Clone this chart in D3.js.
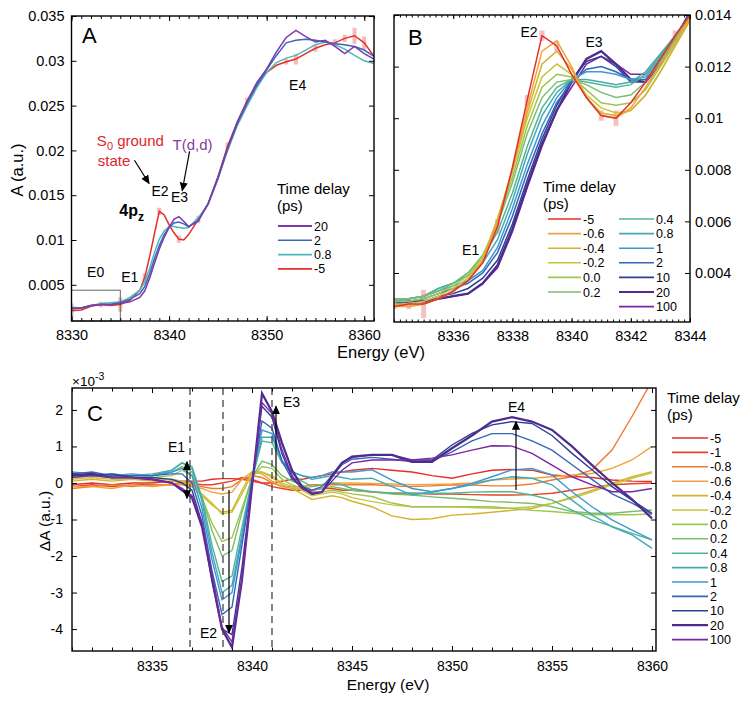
<!DOCTYPE html>
<html><head><meta charset="utf-8">
<script src="https://cdn.jsdelivr.net/npm/d3@7"></script>
<style>body{margin:0;background:#fff}</style>
</head><body>
<script>
// ---------------- DATA ----------------
// Panel A (absorption, 4 delays)
const energyA = [8330,8331,8332,8333,8334,8335,8336,8337,8337.5,8338,8338.5,8339,8339.5,8340,8340.5,8341,8341.5,8342,8343,8344,8345,8346,8347,8348,8349,8350,8351,8352,8353,8354,8355,8356,8357,8358,8359,8360,8361];
const absA_m5  = [0.0021,0.0022,0.0026,0.0028,0.0027,0.0028,0.0033,0.0044,0.0058,0.0081,0.0107,0.0132,0.0128,0.0117,0.0108,0.0101,0.0100,0.0106,0.0123,0.0140,0.0170,0.0205,0.0232,0.0255,0.0273,0.0287,0.0295,0.0299,0.0302,0.0308,0.0314,0.0318,0.0320,0.0325,0.0328,0.0320,0.0305];
const absA_08  = [0.0025,0.0024,0.0027,0.0029,0.0030,0.0031,0.0036,0.0044,0.0053,0.0068,0.0086,0.0101,0.0110,0.0115,0.0115,0.0114,0.0113,0.0114,0.0125,0.0140,0.0168,0.0200,0.0228,0.0250,0.0270,0.0287,0.0298,0.0303,0.0306,0.0312,0.0318,0.0321,0.0318,0.0313,0.0306,0.0300,0.0297];
const absA_2   = [0.0024,0.0024,0.0027,0.0028,0.0028,0.0030,0.0034,0.0040,0.0048,0.0062,0.0079,0.0094,0.0106,0.0114,0.0119,0.0120,0.0118,0.0115,0.0122,0.0140,0.0168,0.0202,0.0230,0.0253,0.0273,0.0290,0.0306,0.0320,0.0323,0.0324,0.0323,0.0321,0.0319,0.0318,0.0316,0.0312,0.0305];
const absA_20  = [0.0023,0.0024,0.0027,0.0028,0.0028,0.0029,0.0031,0.0036,0.0043,0.0057,0.0074,0.0090,0.0103,0.0114,0.0123,0.0126,0.0121,0.0115,0.0121,0.0141,0.0170,0.0203,0.0232,0.0255,0.0276,0.0291,0.0310,0.0326,0.0334,0.0327,0.0321,0.0323,0.0316,0.0308,0.0316,0.0308,0.0302];
const errA_m5  = [0.0008,0,0,0.0003,0,0.0008,0,0,0.0005,0,0,0.0004,0,0,0,0.0004,0,0,0.0004,0,0,0.0004,0,0.0004,0,0,0,0.0003,0.0006,0,0.0004,0,0.0004,0.0004,0.0009,0.0007,0];
const delaysA = ["20","2","0.8","-5"];
const yTicksA = [0.005,0.01,0.015,0.02,0.025,0.03,0.035];
const xTicksA = [8330,8340,8350,8360];

// Panel B (zoom of edge, 13 delays)
const energyB = [8334,8334.5,8335,8335.5,8336,8336.5,8337,8337.5,8338,8338.5,8339,8339.5,8340,8340.5,8341,8341.5,8342,8342.5,8343,8343.5,8344];
const absB_m5  = [0.0027,0.0028,0.0028,0.0030,0.0033,0.0037,0.0044,0.0058,0.0081,0.0107,0.0132,0.0128,0.0117,0.0108,0.0101,0.0100,0.0106,0.0114,0.0123,0.0132,0.0140];
const absB_m06 = [0.0027,0.0027,0.0028,0.0030,0.0033,0.0037,0.0044,0.0060,0.0080,0.0104,0.0126,0.0130,0.0120,0.0108,0.0101,0.0100,0.0104,0.0112,0.0121,0.0130,0.0139];
const absB_m04 = [0.0028,0.0027,0.0028,0.0030,0.0033,0.0037,0.0045,0.0061,0.0080,0.0102,0.0121,0.0126,0.0119,0.0108,0.0102,0.0101,0.0103,0.0109,0.0118,0.0128,0.0138];
const absB_m02 = [0.0028,0.0028,0.0029,0.0031,0.0034,0.0038,0.0046,0.0061,0.0079,0.0100,0.0116,0.0121,0.0117,0.0109,0.0104,0.0102,0.0103,0.0109,0.0118,0.0128,0.0138];
const absB_00  = [0.0029,0.0029,0.0030,0.0032,0.0035,0.0039,0.0046,0.0060,0.0077,0.0097,0.0112,0.0117,0.0116,0.0111,0.0106,0.0105,0.0106,0.0111,0.0120,0.0129,0.0139];
const absB_02  = [0.0030,0.0030,0.0031,0.0033,0.0036,0.0040,0.0047,0.0059,0.0075,0.0094,0.0108,0.0114,0.0115,0.0113,0.0110,0.0108,0.0109,0.0114,0.0122,0.0131,0.0140];
const absB_04  = [0.0030,0.0030,0.0031,0.0034,0.0036,0.0040,0.0046,0.0056,0.0071,0.0089,0.0104,0.0112,0.0115,0.0114,0.0113,0.0112,0.0113,0.0117,0.0124,0.0132,0.0140];
const absB_08  = [0.0030,0.0030,0.0031,0.0034,0.0036,0.0039,0.0044,0.0053,0.0068,0.0086,0.0101,0.0110,0.0115,0.0115,0.0114,0.0113,0.0114,0.0118,0.0125,0.0132,0.0140];
const absB_1   = [0.0029,0.0030,0.0031,0.0033,0.0035,0.0037,0.0041,0.0050,0.0065,0.0082,0.0097,0.0108,0.0115,0.0118,0.0118,0.0117,0.0115,0.0116,0.0123,0.0131,0.0140];
const absB_2   = [0.0028,0.0029,0.0030,0.0032,0.0034,0.0036,0.0040,0.0048,0.0062,0.0079,0.0094,0.0106,0.0114,0.0119,0.0120,0.0118,0.0115,0.0115,0.0122,0.0131,0.0140];
const absB_10  = [0.0028,0.0029,0.0029,0.0031,0.0032,0.0034,0.0038,0.0045,0.0059,0.0076,0.0092,0.0105,0.0115,0.0122,0.0124,0.0120,0.0114,0.0114,0.0122,0.0131,0.0141];
const absB_20  = [0.0028,0.0029,0.0029,0.0030,0.0031,0.0032,0.0036,0.0043,0.0057,0.0074,0.0090,0.0103,0.0114,0.0123,0.0126,0.0121,0.0115,0.0114,0.0121,0.0131,0.0141];
const absB_100 = [0.0029,0.0029,0.0029,0.0030,0.0031,0.0032,0.0036,0.0042,0.0056,0.0073,0.0089,0.0103,0.0112,0.0121,0.0124,0.0121,0.0117,0.0117,0.0124,0.0132,0.0140];
const errB_m5  = [0.0001,0.0002,0.00055,0,0.0001,0,0,0.0003,0,0.0002,0.0002,0.0002,0,0,0.0002,0.0003,0,0,0,0.0002,0];
const delaysB = ["-5","-0.6","-0.4","-0.2","0.0","0.2","0.4","0.8","1","2","10","20","100"];
const yTicksB = [0.004,0.006,0.008,0.01,0.012,0.014];
const xTicksB = [8336,8338,8340,8342,8344];

// Panel C (difference spectra, x1e-3)
const energyC = [8331,8332,8333,8334,8335,8336,8336.5,8337,8337.5,8338,8338.5,8339,8339.5,8340,8340.5,8341,8341.5,8342,8342.5,8343,8343.5,8344,8344.5,8345,8346,8347,8348,8349,8350,8351,8352,8353,8354,8355,8356,8357,8358,8359,8360];
const dC_m5  = [-0.05,0.0,-0.05,0.0,0.0,0.05,0.05,0.05,0.05,0.1,0.12,0.12,0.1,0.05,0.0,0.0,0.05,0.1,0.1,0.15,0.2,0.25,0.3,0.35,0.4,0.35,0.3,0.2,0.13,0.25,0.35,0.37,0.35,0.22,0.18,0.15,0.08,0.05,0.04];
const dC_m1  = [-0.1,-0.05,-0.1,-0.05,-0.05,-0.05,0.0,0.0,-0.05,-0.05,0.0,0.05,0.15,0.1,0.0,-0.1,-0.15,-0.2,-0.2,-0.2,-0.15,-0.15,-0.2,-0.2,-0.25,-0.28,-0.28,-0.3,-0.3,-0.32,-0.33,-0.33,-0.32,-0.28,-0.2,-0.12,-0.05,-0.02,0.0];
const dC_m08 = [-0.15,-0.1,-0.05,-0.1,-0.05,-0.05,0.0,-0.05,-0.1,-0.15,-0.15,-0.1,0.1,0.2,0.15,0.0,-0.1,-0.1,-0.1,-0.05,-0.05,-0.05,-0.05,-0.05,-0.05,-0.08,-0.1,-0.08,-0.05,-0.06,-0.08,-0.08,-0.03,0.08,0.17,0.36,0.9,1.82,2.8];
const dC_m06 = [-0.1,-0.1,-0.15,-0.05,-0.1,-0.05,-0.05,-0.1,-0.15,-0.25,-0.3,-0.25,0.1,0.3,0.25,0.05,-0.1,-0.15,-0.15,-0.1,-0.05,0.0,0.0,0.0,-0.01,-0.03,-0.05,-0.04,-0.03,0.0,0.08,0.11,0.13,0.17,0.22,0.26,0.4,0.63,1.0];
const dC_m04 = [0.05,0.1,0.05,0.1,0.05,0.05,0.0,-0.1,-0.35,-0.6,-0.8,-0.75,-0.2,0.3,0.3,0.15,-0.05,-0.15,-0.3,-0.45,-0.4,-0.35,-0.4,-0.5,-0.65,-0.9,-1.0,-0.98,-0.88,-0.85,-0.8,-0.75,-0.7,-0.56,-0.38,-0.2,-0.01,0.17,0.31];
const dC_m02 = [0.1,0.15,0.1,0.1,0.1,0.1,0.05,-0.05,-0.3,-0.55,-0.85,-0.8,-0.3,0.25,0.3,0.2,0.0,-0.1,-0.2,-0.35,-0.3,-0.25,-0.3,-0.4,-0.51,-0.6,-0.65,-0.65,-0.65,-0.67,-0.69,-0.69,-0.65,-0.56,-0.42,-0.24,-0.05,0.13,0.28];
const dC_00  = [0.15,0.2,0.15,0.15,0.15,0.2,0.35,0.2,-0.4,-1.1,-1.6,-1.5,-0.7,0.15,0.45,0.4,0.1,-0.05,-0.15,-0.3,-0.25,-0.2,-0.25,-0.3,-0.37,-0.55,-0.65,-0.65,-0.65,-0.65,-0.65,-0.7,-0.75,-0.78,-0.83,-0.87,-0.87,-0.87,-0.85];
const dC_02  = [0.2,0.2,0.15,0.2,0.2,0.3,0.45,0.3,-0.4,-1.3,-2.0,-1.85,-0.8,0.15,0.6,0.5,0.2,0.05,-0.05,-0.2,-0.15,-0.1,-0.15,-0.2,-0.24,-0.3,-0.33,-0.38,-0.42,-0.46,-0.51,-0.53,-0.56,-0.65,-0.78,-0.83,-0.83,-0.78,-0.74];
const dC_04  = [0.2,0.25,0.2,0.2,0.25,0.35,0.55,0.45,-0.4,-1.7,-2.7,-2.55,-1.2,0.1,1.15,1.1,0.55,0.25,0.05,-0.1,-0.05,0.0,-0.05,-0.15,-0.24,-0.27,-0.28,-0.28,-0.28,-0.25,-0.24,-0.24,-0.33,-0.47,-0.74,-1.01,-1.19,-1.38,-1.56];
const dC_08  = [0.25,0.2,0.25,0.2,0.2,0.35,0.55,0.4,-0.5,-1.9,-3.0,-2.8,-1.4,0.1,1.25,1.25,0.6,0.3,0.2,0.1,0.15,0.2,0.15,0.1,0.13,-0.1,-0.33,-0.24,-0.15,-0.05,0.08,0.17,0.13,-0.05,-0.47,-0.88,-1.2,-1.42,-1.79];
const dC_1   = [0.3,0.25,0.2,0.25,0.2,0.3,0.4,0.2,-0.7,-2.1,-3.2,-3.0,-1.5,0.1,1.45,1.35,0.6,0.3,0.2,0.15,0.2,0.3,0.3,0.3,0.36,0.08,-0.15,-0.24,-0.15,-0.01,0.17,0.36,0.4,0.22,-0.24,-0.65,-1.01,-1.29,-1.56];
const dC_2   = [0.25,0.3,0.2,0.2,0.2,0.25,0.25,0.0,-0.9,-2.4,-3.6,-3.4,-1.7,0.05,1.7,1.5,0.6,0.1,-0.1,-0.2,-0.1,0.2,0.5,0.65,0.7,0.65,0.58,0.6,0.85,1.15,1.35,1.35,1.15,0.9,0.5,0.1,-0.3,-0.55,-0.85];
const dC_10  = [0.25,0.2,0.25,0.15,0.15,0.1,0.0,-0.2,-1.1,-2.7,-4.0,-4.15,-2.3,0.0,2.1,1.8,0.8,0.15,-0.15,-0.3,-0.25,0.15,0.55,0.7,0.77,0.77,0.63,0.63,1.04,1.36,1.59,1.68,1.63,1.3,0.81,0.36,-0.1,-0.47,-0.83];
const dC_20  = [0.2,0.25,0.15,0.15,0.1,0.0,-0.2,-0.4,-1.2,-2.6,-4.0,-4.5,-2.65,-0.1,2.45,1.95,1.1,0.35,-0.1,-0.3,-0.25,0.2,0.55,0.72,0.77,0.77,0.58,0.58,0.95,1.3,1.68,1.8,1.68,1.45,1.0,0.49,0.0,-0.45,-0.97];
const dC_100 = [0.15,0.2,0.15,0.15,0.1,0.0,-0.15,-0.35,-1.1,-2.5,-3.95,-4.35,-2.6,-0.05,2.2,1.9,0.9,0.2,-0.15,-0.25,-0.25,0.05,0.35,0.55,0.63,0.63,0.63,0.68,0.77,0.9,1.02,1.01,0.81,0.49,0.17,-0.05,-0.24,-0.24,-0.15];
const delaysC = ["-5","-1","-0.8","-0.6","-0.4","-0.2","0.0","0.2","0.4","0.8","1","2","10","20","100"];
const yTicksC = [-4,-3,-2,-1,0,1,2];
const xTicksC = [8335,8340,8345,8350,8355,8360];

// colours per delay
const colorC = {"-5":"#e42f2a","-1":"#e4452b","-0.8":"#ec7a31","-0.6":"#eea33c","-0.4":"#d6b22f","-0.2":"#c6c63d","0.0":"#9fc553","0.2":"#79bf6d","0.4":"#53b690","0.8":"#43a9b7","1":"#3c98d6","2":"#3466b7","10":"#2f3f93","20":"#4d2b8f","100":"#7c25a1"};
const colorA = {"20":"#7d3aa8","2":"#3e63c2","0.8":"#4cb8b8","-5":"#e42f2a"};

const seriesA = {"-5":absA_m5,"0.8":absA_08,"2":absA_2,"20":absA_20};
const seriesB = {"-5":absB_m5,"-0.6":absB_m06,"-0.4":absB_m04,"-0.2":absB_m02,"0.0":absB_00,"0.2":absB_02,"0.4":absB_04,"0.8":absB_08,"1":absB_1,"2":absB_2,"10":absB_10,"20":absB_20,"100":absB_100};
const seriesC = {"-5":dC_m5,"-1":dC_m1,"-0.8":dC_m08,"-0.6":dC_m06,"-0.4":dC_m04,"-0.2":dC_m02,"0.0":dC_00,"0.2":dC_02,"0.4":dC_04,"0.8":dC_08,"1":dC_1,"2":dC_2,"10":dC_10,"20":dC_20,"100":dC_100};

// ---------------- DRAWING ----------------
const FONT = '"Liberation Sans", Arial, Helvetica, sans-serif';
const svg = d3.select("body").append("svg").attr("width",751).attr("height",701)
  .style("font-family",FONT).style("background","#fff");
const defs = svg.append("defs");
defs.append("marker").attr("id","ah").attr("viewBox","0 0 10 10").attr("refX",9).attr("refY",5)
  .attr("markerWidth",9).attr("markerHeight",9).attr("markerUnits","userSpaceOnUse")
  .attr("orient","auto-start-reverse")
  .append("path").attr("d","M0,0.5L10,5L0,9.5Z").attr("fill","#000");

function clip(id,x,y){
  defs.append("clipPath").attr("id",id).append("rect")
    .attr("x",x.range()[0]).attr("y",y.range()[1])
    .attr("width",x.range()[1]-x.range()[0]).attr("height",y.range()[0]-y.range()[1]);
}

function styleAxis(sel,fs){
  sel.select(".domain").remove();
  sel.selectAll("line").attr("stroke","#000").attr("stroke-width",1);
  sel.selectAll("text").attr("font-family",FONT).attr("font-size",fs).attr("fill","#000");
}

function axes(g,x,y,o){
  const [X0,X1]=x.range(), [Y0,Y1]=y.range();
  const fs = o.fs||14.5;
  g.append("g").attr("transform",`translate(0,${Y0})`)
    .call(d3.axisBottom(x).tickValues(o.xMinor).tickSize(-o.minorLen).tickFormat("")).call(s=>styleAxis(s,fs));
  g.append("g").attr("transform",`translate(0,${Y0})`)
    .call(d3.axisBottom(x).tickValues(o.xMajor).tickSize(-o.majorLen).tickPadding(o.xPad).tickFormat(d=>String(d))).call(s=>styleAxis(s,fs));
  g.append("g").attr("transform",`translate(0,${Y1})`)
    .call(d3.axisTop(x).tickValues(o.xMinor).tickSize(-o.minorLen).tickFormat("")).call(s=>styleAxis(s,fs));
  g.append("g").attr("transform",`translate(0,${Y1})`)
    .call(d3.axisTop(x).tickValues(o.xMajor).tickSize(-o.majorLen).tickFormat("")).call(s=>styleAxis(s,fs));
  const la = d3.axisLeft(y).tickValues(o.yMajor).tickSize(-o.yLen);
  const ra = d3.axisRight(y).tickValues(o.yMajor).tickSize(-o.yLen);
  if(o.yLabelSide==="left"){ la.tickPadding(o.yPad).tickFormat(o.yFmt); ra.tickFormat(""); }
  else { ra.tickPadding(o.yPad).tickFormat(o.yFmt); la.tickFormat(""); }
  g.append("g").attr("transform",`translate(${X0},0)`).call(la).call(s=>styleAxis(s,fs));
  g.append("g").attr("transform",`translate(${X1},0)`).call(ra).call(s=>styleAxis(s,fs));
  g.append("rect").attr("x",X0).attr("y",Y1).attr("width",X1-X0).attr("height",Y0-Y1)
    .attr("fill","none").attr("stroke","#000").attr("stroke-width",1.4);
}

function txt(g,x,y,s,fs,opts={}){
  const t=g.append("text").attr("x",x).attr("y",y).attr("font-size",fs).attr("fill",opts.fill||"#000").text(s);
  if(opts.anchor) t.attr("text-anchor",opts.anchor);
  if(opts.weight) t.attr("font-weight",opts.weight);
  return t;
}
function arrow(g,x1,y1,x2,y2,both){
  const l=g.append("line").attr("x1",x1).attr("y1",y1).attr("x2",x2).attr("y2",y2)
    .attr("stroke","#000").attr("stroke-width",1.2).attr("marker-end","url(#ah)");
  if(both) l.attr("marker-start","url(#ah)");
}
function legend(g,x0,y0,labels,colors,opts){
  labels.forEach((lab,i)=>{
    const y=y0+i*opts.dy;
    g.append("line").attr("x1",x0).attr("x2",x0+opts.len).attr("y1",y).attr("y2",y)
      .attr("stroke",colors[lab]).attr("stroke-width",lab==="20"?2.2:1.6);
    txt(g,x0+opts.len+2,y+4.5,lab,opts.fs);
  });
}

// ===== Panel A =====
{
  const g=svg.append("g");
  const x=d3.scaleLinear().domain([8330,8361]).range([71.5,374]);
  const y=d3.scaleLinear().domain([0.00096,0.035]).range([321,16]);
  clip("clipA",x,y);
  const pg=g.append("g").attr("clip-path","url(#clipA)");
  pg.selectAll("line.err").data(energyA.map((e,i)=>({e,v:absA_m5[i],s:errA_m5[i]})).filter(d=>d.s>0))
    .enter().append("line").attr("x1",d=>x(d.e)).attr("x2",d=>x(d.e))
    .attr("y1",d=>y(d.v-d.s)).attr("y2",d=>y(d.v+d.s))
    .attr("stroke","rgba(240,130,130,0.55)").attr("stroke-width",4);
  const line=d3.line().x((d,i)=>x(energyA[i])).y(d=>y(d));
  ["-5","0.8","2","20"].forEach(k=>{
    pg.append("path").attr("d",line(seriesA[k])).attr("fill","none").attr("stroke",colorA[k]).attr("stroke-width",1.5);
  });
  g.append("rect").attr("x",x(8330)).attr("y",y(0.0044)).attr("width",x(8335)-x(8330)).attr("height",y(0.00096)-y(0.0044))
    .attr("fill","none").attr("stroke","#555").attr("stroke-width",0.9);
  axes(g,x,y,{xMinor:d3.range(8330,8362,1),xMajor:xTicksA,yMajor:yTicksA,yLabelSide:"left",
    yFmt:d=>String(d),minorLen:3,majorLen:5,yLen:5,xPad:9,yPad:7});
  txt(g,82,43,"A",22);
  const s0=txt(g,x(8332.6),y(0.0205),"S",15,{fill:"#e0262a"});
  s0.append("tspan").attr("dy",4).attr("font-size",11).text("0");
  s0.append("tspan").attr("dy",-4).text(" ground");
  txt(g,x(8332.7),y(0.0183),"state",15,{fill:"#e0262a"});
  txt(g,x(8340.35),y(0.0200),"T(d,d)",15,{fill:"#8a3aa3"});
  arrow(g,x(8336.45),y(0.0189),x(8337.95),y(0.0163));
  arrow(g,x(8342.1),y(0.0199),x(8341.35),y(0.0155));
  txt(g,x(8338.2),y(0.0149),"E2",14);
  txt(g,x(8340.2),y(0.0142),"E3",14);
  const pz=txt(g,x(8334.9),y(0.0127),"4p",16,{weight:"bold"});
  pz.append("tspan").attr("dy",5).attr("font-size",12).text("z");
  txt(g,x(8335.1),y(0.0053),"E1",14);
  txt(g,x(8331.6),y(0.0059),"E0",14);
  txt(g,x(8352.3),y(0.0267),"E4",14);
  txt(g,277,194,"Time delay",15);
  txt(g,277,211,"(ps)",15);
  legend(g,278,226,delaysA,colorA,{dy:14.3,len:34,fs:12.5});
  g.append("text").attr("transform","translate(23,170) rotate(-90)").attr("text-anchor","middle")
    .attr("font-size",16.5).text("A (a.u.)");
}

// ===== Panel B =====
{
  const g=svg.append("g");
  const x=d3.scaleLinear().domain([8334,8344]).range([394,690]);
  const y=d3.scaleLinear().domain([0.0021,0.014]).range([322,15]);
  clip("clipB",x,y);
  const pg=g.append("g").attr("clip-path","url(#clipB)");
  pg.selectAll("line.err").data(energyB.map((e,i)=>({e,v:absB_m5[i],s:errB_m5[i]})).filter(d=>d.s>0))
    .enter().append("line").attr("x1",d=>x(d.e)).attr("x2",d=>x(d.e))
    .attr("y1",d=>y(d.v-d.s)).attr("y2",d=>y(d.v+d.s))
    .attr("stroke","rgba(240,130,130,0.5)").attr("stroke-width",5);
  const line=d3.line().x((d,i)=>x(energyB[i])).y(d=>y(d));
  delaysB.slice().reverse().forEach(k=>{
    pg.append("path").attr("d",line(seriesB[k])).attr("fill","none").attr("stroke",colorC[k])
      .attr("stroke-width",k==="20"?2.3:1.5);
  });
  axes(g,x,y,{xMinor:d3.range(0,51).map(i=>8334+i*0.2),xMajor:xTicksB,yMajor:yTicksB,yLabelSide:"right",
    yFmt:d=>String(d),minorLen:2.5,majorLen:4,yLen:5,xPad:9,yPad:5});
  txt(g,408,45,"B",22);
  txt(g,x(8338.27),y(0.01315),"E2",14);
  txt(g,x(8340.47),y(0.01276),"E3",14);
  txt(g,x(8336.3),y(0.0047),"E1",14);
  txt(g,543,192,"Time delay",15);
  txt(g,543,209,"(ps)",15);
  legend(g,548,219,delaysB.slice(0,6),colorC,{dy:14.6,len:33,fs:12.5});
  legend(g,619,219,delaysB.slice(6),colorC,{dy:14.6,len:35,fs:12.5});
}
svg.append("text").attr("x",381).attr("y",358).attr("text-anchor","middle").attr("font-size",16.5).text("Energy (eV)");

// ===== Panel C =====
{
  const g=svg.append("g");
  const x=d3.scaleLinear().domain([8331,8360.2]).range([72,656]);
  const y=d3.scaleLinear().domain([-4.6,2.6]).range([651,388]);
  clip("clipC",x,y);
  const pg=g.append("g").attr("clip-path","url(#clipC)");
  const line=d3.line().x((d,i)=>x(energyC[i])).y(d=>y(d));
  delaysC.forEach(k=>{
    pg.append("path").attr("d",line(seriesC[k])).attr("fill","none").attr("stroke",colorC[k])
      .attr("stroke-width",k==="20"?2.2:1.4);
  });
  [8336.9,8338.55,8341.0].forEach(e=>{
    g.append("line").attr("x1",x(e)).attr("x2",x(e)).attr("y1",y(2.6)).attr("y2",y(-4.6))
      .attr("stroke","#444").attr("stroke-width",1.3).attr("stroke-dasharray","7,5");
  });
  axes(g,x,y,{xMinor:d3.range(8331,8361,1),xMajor:xTicksC,yMajor:yTicksC,yLabelSide:"left",
    yFmt:d=>String(d),minorLen:3.5,majorLen:5,yLen:5,xPad:10,yPad:9,fs:14});
  arrow(g,x(8336.75),y(-0.42),x(8336.75),y(0.58),true);
  arrow(g,x(8338.85),y(-0.19),x(8338.85),y(-4.1));
  arrow(g,x(8341.2),y(0.08),x(8341.2),y(2.1));
  arrow(g,x(8353.2),y(-0.19),x(8353.2),y(1.68));
  txt(g,x(8335.8),y(0.85),"E1",14);
  txt(g,x(8337.4),y(-4.25),"E2",14);
  txt(g,x(8341.55),y(2.08),"E3",14);
  txt(g,x(8352.8),y(1.95),"E4",14);
  txt(g,87,421,"C",22);
  const m=txt(g,72,386,"×10",13.5);
  m.append("tspan").attr("dy",-6).attr("font-size",10.5).text("-3");
  g.append("text").attr("transform","translate(50,521) rotate(-90)").attr("text-anchor","middle")
    .attr("font-size",15.5).text("ΔA (a.u.)");
  g.append("text").attr("x",388).attr("y",690).attr("text-anchor","middle").attr("font-size",15.5).text("Energy (eV)");
  txt(g,667,403,"Time delay",15);
  txt(g,667,420,"(ps)",15);
  legend(g,672,438,delaysC,colorC,{dy:14.4,len:36,fs:12.5});
}
</script>
</body></html>
